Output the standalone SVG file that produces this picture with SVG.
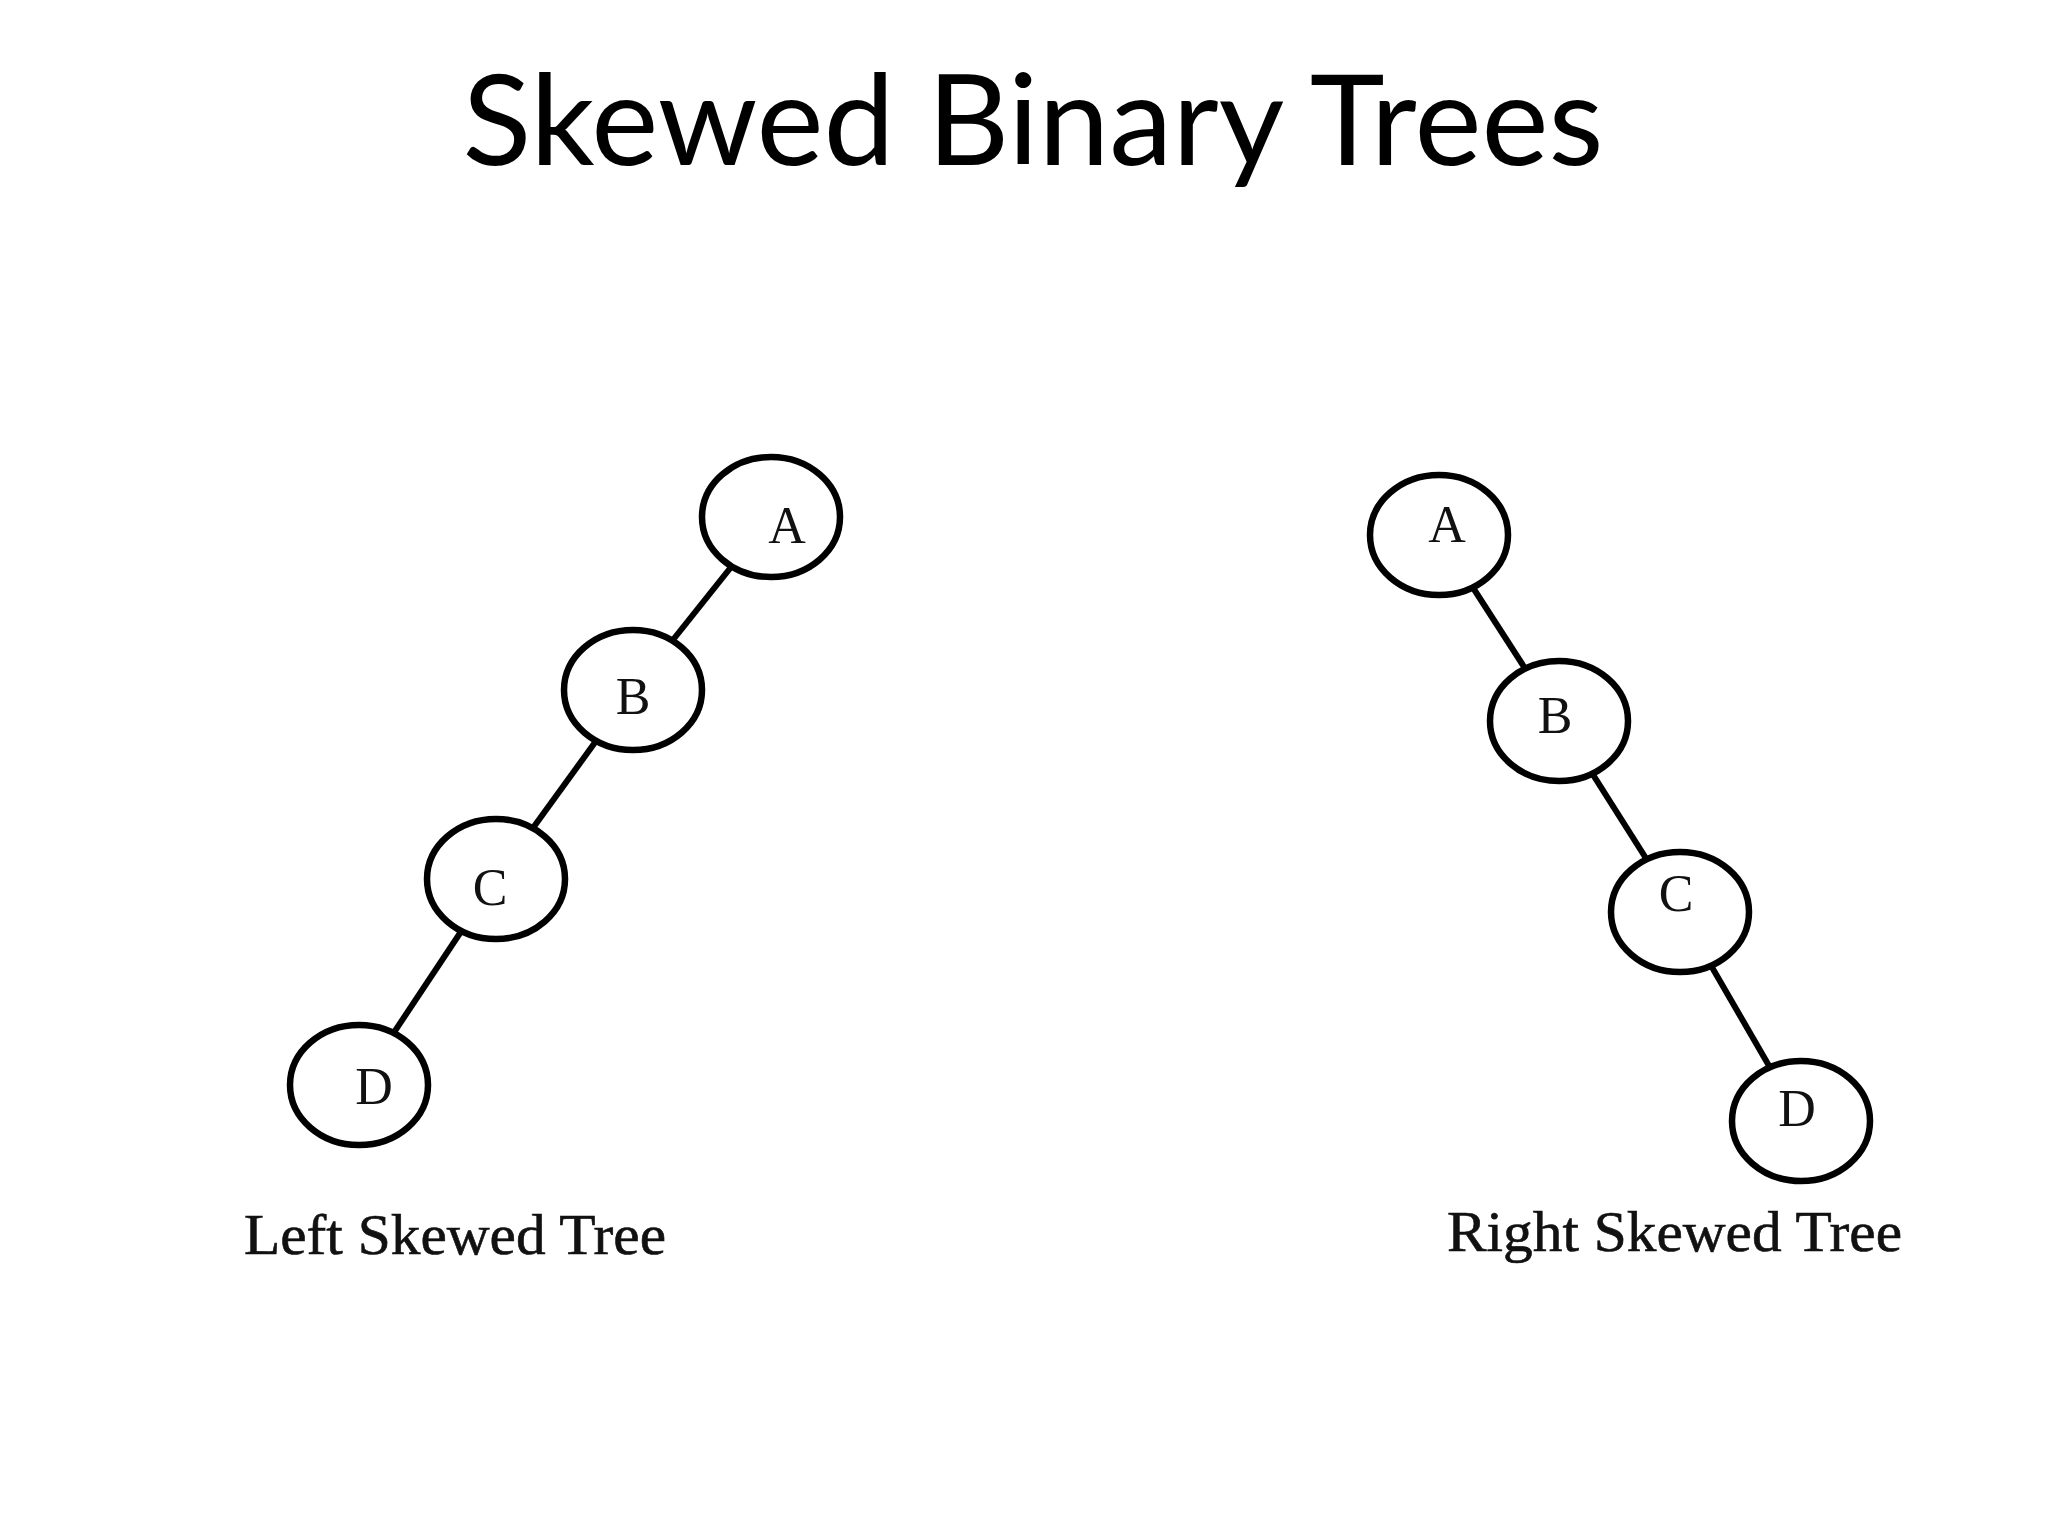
<svg xmlns="http://www.w3.org/2000/svg" width="2048" height="1536" viewBox="0 0 2048 1536">
<style>
.n{fill:#fff;stroke:#000;stroke-width:6.5}
.e{stroke:#000;stroke-width:6}
.t{font-family:"Liberation Serif",serif;font-size:52px;fill:#111;text-anchor:middle}
.c{font-family:"Liberation Serif",serif;font-size:56px;fill:#111;stroke:#111;stroke-width:0.6}
</style>
<rect width="2048" height="1536" fill="#fff"/>
<text x="1033" y="165" font-family="Lato,'Open Sans',sans-serif" font-size="127" text-anchor="middle">Skewed Binary Trees</text>
<g id="connectors">
<line class="e" x1="771" y1="517" x2="633" y2="690"/>
<line class="e" x1="633" y1="690" x2="496" y2="879"/>
<line class="e" x1="496" y1="879" x2="359" y2="1085"/>
<line class="e" x1="1439" y1="535" x2="1559" y2="721"/>
<line class="e" x1="1559" y1="721" x2="1680" y2="912"/>
<line class="e" x1="1680" y1="912" x2="1801" y2="1121"/>
</g>
<g id="LA"><ellipse class="n" cx="771" cy="517" rx="69" ry="60"/><text class="t" x="787" y="543">A</text></g>
<g id="LB"><ellipse class="n" cx="633" cy="690" rx="69" ry="60"/><text class="t" x="633" y="714">B</text></g>
<g id="LC"><ellipse class="n" cx="496" cy="879" rx="69" ry="60"/><text class="t" x="490" y="905">C</text></g>
<g id="LD"><ellipse class="n" cx="359" cy="1085" rx="69" ry="60"/><text class="t" x="374" y="1104">D</text></g>
<g id="RA"><ellipse class="n" cx="1439" cy="535" rx="69" ry="60"/><text class="t" x="1447" y="542">A</text></g>
<g id="RB"><ellipse class="n" cx="1559" cy="721" rx="69" ry="60"/><text class="t" x="1555" y="733">B</text></g>
<g id="RC"><ellipse class="n" cx="1680" cy="912" rx="69" ry="60"/><text class="t" x="1676" y="911">C</text></g>
<g id="RD"><ellipse class="n" cx="1801" cy="1121" rx="69" ry="60"/><text class="t" x="1797" y="1126">D</text></g>
<text class="c" x="244" y="1254" textLength="422" lengthAdjust="spacingAndGlyphs">Left Skewed Tree</text>
<text class="c" x="1447" y="1251" textLength="455" lengthAdjust="spacingAndGlyphs">Right Skewed Tree</text>
</svg>
